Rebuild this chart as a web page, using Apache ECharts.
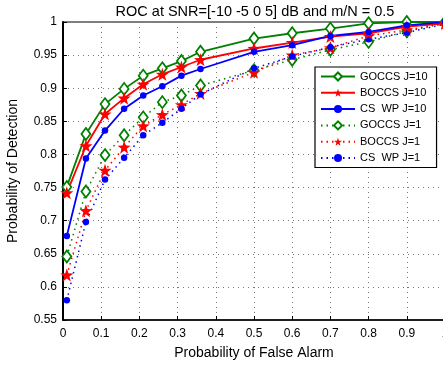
<!DOCTYPE html>
<html><head><meta charset="utf-8">
<script src="https://cdn.jsdelivr.net/npm/echarts@6/dist/echarts.min.js"></script>
<style>html,body{margin:0;padding:0;background:#fff;overflow:hidden}#c{width:443px;height:369px}</style>
</head><body><div id="c"></div>
<script>
const pfa = [0.01,0.06,0.11,0.16,0.21,0.26,0.31,0.36,0.5,0.6,0.7,0.8,0.9,1.0];
const goccs10 = [0.751,0.831,0.876,0.899,0.919,0.930,0.941,0.955,0.975,0.983,0.990,0.998,1.0,1.0];
const boccs10 = [0.742,0.813,0.861,0.885,0.906,0.921,0.932,0.943,0.960,0.969,0.978,0.983,0.993,0.998];
const cswp10  = [0.677,0.794,0.836,0.869,0.889,0.903,0.919,0.929,0.955,0.965,0.979,0.985,0.995,1.0];
const goccs1  = [0.646,0.744,0.799,0.829,0.856,0.879,0.889,0.904,0.927,0.943,0.958,0.970,0.986,0.998];
const boccs1  = [0.618,0.715,0.776,0.811,0.843,0.860,0.875,0.892,0.924,0.950,0.961,0.979,0.988,0.998];
const cswp1   = [0.580,0.698,0.762,0.795,0.829,0.848,0.869,0.891,0.930,0.948,0.962,0.974,0.984,0.997];
const names = ['GOCCS J=10','BOCCS J=10','CS  WP J=10','GOCCS J=1','BOCCS J=1','CS  WP J=1'];
const xTicks = ['0','0.1','0.2','0.3','0.4','0.5','0.6','0.7','0.8','0.9','1'];
const yTicks = ['0.55','0.6','0.65','0.7','0.75','0.8','0.85','0.9','0.95','1'];

const star = 'path://M0,-10 L2.35,-3.24 L9.51,-3.09 L3.8,1.24 L5.88,8.09 L0,4 L-5.88,8.09 L-3.8,1.24 L-9.51,-3.09 L-2.35,-3.24 Z';
const green = '#008000', red = '#ff0000', blue = '#0000ff';
function mk(name, ys, color, solid, symbol, size, empty) {
  return {
    name, type: 'line', data: pfa.map((x,i)=>[x, ys[i]]),
    symbol, symbolSize: size, showAllSymbol: true,
    lineStyle: { color, width: solid ? 1.8 : 1.5, type: solid ? 'solid' : [1.5, 4] },
    itemStyle: { color: empty ? '#fff' : color, borderColor: color, borderWidth: empty ? 1.8 : 0 },
    emphasis: { disabled: true }, z: solid ? 3 : 2
  };
}
const font = 'Liberation Sans, Arial, sans-serif';
const chart = echarts.init(document.getElementById('c'), null, {renderer: 'canvas'});
chart.setOption({
  animation: false,
  backgroundColor: '#fff',
  title: { text: 'ROC at SNR=[-10 -5 0 5] dB and m/N = 0.5', left: 250, top: -1, textAlign: 'center',
    textStyle: { fontFamily: font, fontSize: 14.5, fontWeight: 'normal', color: '#000' } },
  grid: { left: 63, top: 22, width: 382, bottom: 49, containLabel: false, outerBoundsMode: 'none',
    show: true, borderColor: '#000', borderWidth: 1, backgroundColor: 'transparent' },
  legend: {
    orient: 'vertical', left: 315, top: 67, itemWidth: 34, itemHeight: 10, itemGap: 5.3,
    backgroundColor: '#fff', borderColor: '#000', borderWidth: 1.2, padding: [4, 9, 4, 5],
    textStyle: { fontFamily: font, fontSize: 11, color: '#000' },
    data: names
  },
  xAxis: {
    type: 'value', min: 0, max: 1, interval: 0.1,
    name: 'Probability of False Alarm', nameLocation: 'middle', nameGap: 26,
    nameTextStyle: { fontFamily: font, fontSize: 14, color: '#000' },
    axisLine: { lineStyle: { color: '#000', width: 1.5 } },
    axisTick: { inside: true, length: 4, lineStyle: { color: '#000' } },
    axisLabel: { fontFamily: font, fontSize: 12, color: '#000', margin: 8, showMaxLabel: true, hideOverlap: false,
      formatter: v => xTicks[Math.round(v*10)] },
    splitLine: { lineStyle: { color: '#777', type: [1, 4], width: 1 } }
  },
  yAxis: {
    type: 'value', min: 0.55, max: 1, interval: 0.05,
    name: 'Probability of Detection', nameLocation: 'middle', nameGap: 43, nameRotate: 90,
    nameTextStyle: { fontFamily: font, fontSize: 14, color: '#000' },
    axisLine: { show: true, lineStyle: { color: '#000', width: 2 } },
    axisTick: { show: true, inside: true, length: 4, lineStyle: { color: '#000' } },
    axisLabel: { fontFamily: font, fontSize: 12, color: '#000', margin: 6,
      formatter: v => yTicks[Math.round((v-0.55)/0.05)] },
    splitLine: { lineStyle: { color: '#777', type: [1, 4], width: 1 } }
  },
  series: [
    mk(names[0], goccs10, green, true, 'diamond', [9, 12], true),
    mk(names[1], boccs10, red, true, star, 13, false),
    mk(names[2], cswp10, blue, true, 'circle', 6.5, false),
    mk(names[3], goccs1, green, false, 'diamond', [9, 12], true),
    mk(names[4], boccs1, red, false, star, 13, false),
    mk(names[5], cswp1, blue, false, 'circle', 6.5, false)
  ]
});
</script></body></html>
